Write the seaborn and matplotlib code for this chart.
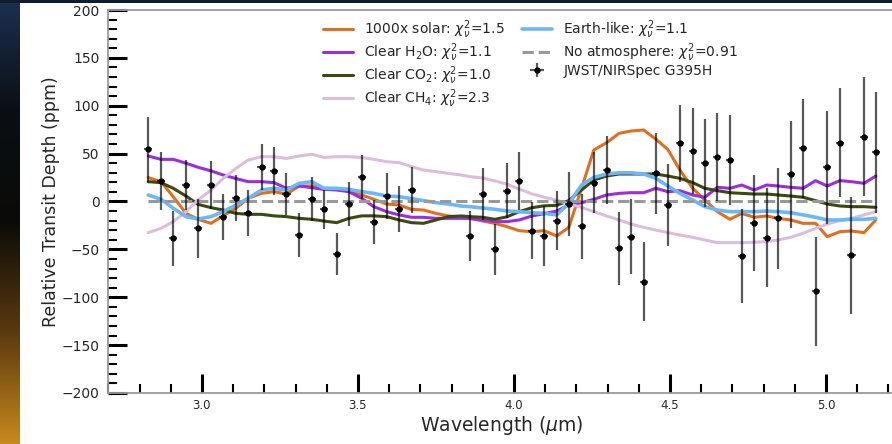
import numpy as np
import pandas as pd
import matplotlib
matplotlib.use('Agg')
import matplotlib.pyplot as plt
from matplotlib.patches import Rectangle
from matplotlib.ticker import MultipleLocator
import seaborn as sns

sns.set_theme(style='ticks')
plt.rcParams['font.family'] = ['DejaVu Sans']
plt.rcParams['mathtext.fontset'] = 'dejavusans'

# JWST/NIRSpec G395H spectrum
data_wl = [2.828, 2.869, 2.908, 2.949, 2.988, 3.029, 3.068, 3.109, 3.148, 3.191,
           3.231, 3.271, 3.312, 3.352, 3.391, 3.432, 3.471, 3.512, 3.551, 3.592,
           3.632, 3.672, 3.859, 3.900, 3.939, 3.978, 4.017, 4.058, 4.097, 4.137,
           4.176, 4.217, 4.256, 4.297, 4.337, 4.375, 4.416, 4.455, 4.493, 4.532,
           4.573, 4.612, 4.652, 4.692, 4.730, 4.770, 4.810, 4.847, 4.887, 4.927,
           4.967, 5.004, 5.045, 5.082, 5.122, 5.160]
data_ppm = [54.5, 21.4, -38.5, 17.2, -28, 17.2, -15.8, 3.3, -12.4, 35.7,
            32.2, 7.8, -35, 2.6, -8.2, -55, -3, 25.9, -21, 6,
            -8.2, 12, -36, 7.8, -50, 11.3, 21.4, -30.5, -36, -20,
            -2.6, -26, 19.6, 32.9, -49, -36.7, -83.7, 29.4, -3.6, 60.8,
            53, 40.5, 46, 43, -56.6, -22.8, -37.8, -17.6, 28.4, 55.5,
            -93.8, 35.7, 61.4, -56, 67.7, 51.4]
data_err = [34, 30, 29, 26, 31, 25, 24, 24, 24, 24,
            25, 22, 23, 23, 20, 22, 23, 23, 23, 24,
            24, 24, 26, 27, 27, 29, 30, 30, 31, 31,
            33, 34, 32, 36, 38, 39, 41, 42, 43, 40,
            45, 46, 46, 47, 49, 50, 52, 53, 56, 52,
            57, 59, 57, 61, 62, 63]

# model grid: data wavelengths plus points across the detector gap
model_wl = data_wl[:22] + [3.71, 3.75, 3.79, 3.83] + data_wl[22:]

solar_1000x = [25, 20.7, 5, -12.4, -18.6, -22.8, -15, -7, 3.3, 8.5,
               10.3, 7.8, 16.2, 16.2, 12.7, 12.7, 11, 6.8, 2.3, -2.6,
               -3.7, -8.2, -8.9, -12.4, -15.1, -16.5,
               -17.6, -20.4, -22.8, -26.3, -30.5, -31.5, -30.5, -36,
               -27, 14, 53.8, 61.4, 71.2, 73.6, 74.7, 65, 54.5, 32.9,
               13.8, 1.6, -10.6, -18.6, -12.4, -16.5, -15.1, -17.6, -19.3, -22.8,
               -22.8, -36.7, -31.5, -30.8, -32.5, -19.3]
clear_h2o = [47.5, 44, 44, 40, 35.7, 32, 27.7, 24, 20.7, 20.7,
             19.7, 13.8, 16.2, 14.4, 12.7, 12, 10.3, 3.3, -5.4, -10.6,
             -14, -16.5, -16.5, -17.6, -17.6, -17.6,
             -17.6, -19.3, -21, -21, -19.3, -15.1, -12.7, -10,
             -3.7, -1.2, 2.3, 6.8, 8.5, 9.2, 9.2, 13.8, 10.3, 11.3,
             6.8, 4.4, 14.8, 13.8, 17.2, 12, 17.2, 16.2, 14.8, 13.8,
             21.8, 16.2, 21.8, 20.7, 19, 26.6]
clear_co2 = [20.7, 19.7, 13.8, 5.7, -3, -6.4, -8.9, -12.4, -13.4, -13.4,
             -15, -15.8, -17.6, -18.6, -20.4, -22.1, -17.6, -15, -15, -15.8,
             -19.3, -22.1, -22.8, -19.3, -15.8, -15.1,
             -15.8, -16.5, -18.6, -16, -10.6, -6.5, -4.5, -4,
             1, 12, 22.5, 26.6, 28.7, 28.7, 28.7, 28.7, 26.6, 24.2,
             19.7, 13.8, 11.3, 9.2, 8.5, 7.8, 7.8, 6.8, 5.7, 4.4,
             0.9, -2.6, -4.7, -5.4, -5.4, -6.1]
clear_ch4 = [-32.5, -28, -21, -10.6, 1.6, 12, 24, 34.6, 43.3, 46.8,
             46.8, 45, 47.5, 49.3, 46, 46.8, 46.8, 46, 44, 41.6,
             40.6, 36.4, 32.9, 31.2, 29.4, 27.7,
             26, 24.5, 21.5, 18, 13, 8, 4.5, 1.2,
             -2.6, -6.1, -10.6, -15.1, -19.3, -23.5, -27, -29.8, -32.5, -35,
             -37.4, -40.2, -43, -43, -43, -42.5, -41.9, -40.2, -37.4, -33.2,
             -28, -23.5, -20, -17.6, -14, -10.6]
earth_like = [6.8, 2.3, -7, -15.8, -18.3, -15.8, -10.6, -3.7, 3.3, 12,
              13.8, 12, 19, 20.7, 13.8, 13.8, 12.7, 10.3, 8.5, 5.7,
              5, 3, 0.9, -1.2, -2.6, -4.7,
              -5.4, -6.8, -8.2, -9.9, -10.6, -11.7, -12.4, -14,
              -1.9, 17.2, 25.2, 28.7, 30, 30, 28.7, 24.2, 16.2, 8.5,
              1.6, -5.4, -8.9, -10.6, -10.6, -10.6, -10, -10.6, -11.7, -14,
              -16.5, -19.3, -19.3, -18.6, -18.6, -17.6]
no_atm_wl = [data_wl[0], data_wl[-1]]
no_atm_ppm = [0, 0]

W, H = 892, 444
fig = plt.figure(figsize=(W / 100, H / 100), dpi=100, facecolor='white')

# dark backdrop strips (left and top), as in the screenshot
bg = fig.add_axes([0, 0, 20 / W, 1])
grad = np.linspace(0, 1, 256).reshape(-1, 1)
cmap = matplotlib.colors.LinearSegmentedColormap.from_list(
    'bg', ['#1c3050', '#0a0f14', '#0a0b08', '#5a3a10', '#c8891e'])
bg.imshow(grad, aspect='auto', cmap=cmap, extent=[0, 1, 0, 1])
bg.axis('off')
fig.patches.append(Rectangle((0, (H - 3) / H), 1, 3 / H,
                             transform=fig.transFigure, facecolor='#0e1c30',
                             edgecolor='none', zorder=5))

ax = fig.add_axes([108 / W, 1 - 393 / H, 787 / W, 383 / H])
ax.set_facecolor('white')

models = [
    (solar_1000x, '#e0701e', r'1000x solar: $\chi_\nu^2$=1.5', 2.2),
    (clear_h2o, '#9b2fdb', r'Clear H$_2$O: $\chi_\nu^2$=1.1', 2.2),
    (clear_co2, '#3c4a12', r'Clear CO$_2$: $\chi_\nu^2$=1.0', 2.2),
    (clear_ch4, '#dcbddc', r'Clear CH$_4$: $\chi_\nu^2$=2.3', 2.2),
    (earth_like, '#6cb8f6', r'Earth-like: $\chi_\nu^2$=1.1', 2.6),
]
for vals, col, lab, lw in models:
    df = pd.DataFrame({'wl': model_wl, 'ppm': vals})
    sns.lineplot(data=df, x='wl', y='ppm', ax=ax, color=col, lw=lw,
                 label=lab, sort=False, estimator=None, zorder=3)

sns.lineplot(x=no_atm_wl, y=no_atm_ppm, ax=ax, color='#999999', lw=2.2,
             linestyle='--', dashes=(3, 2), zorder=3,
             label=r'No atmosphere: $\chi_\nu^2$=0.91')

ax.errorbar(data_wl, data_ppm, yerr=data_err, xerr=0.013, fmt='o',
            color='black', ms=3.5, ecolor=(0, 0, 0, 0.65),
            elinewidth=1.6, capsize=0, zorder=4,
            label='JWST/NIRSpec G395H')

ax.set_xlim(2.699, 2.699 + 787 / 312)
ax.set_ylim(-200, 200)
ax.xaxis.set_major_locator(MultipleLocator(0.5))
ax.xaxis.set_minor_locator(MultipleLocator(0.1))
ax.yaxis.set_major_locator(MultipleLocator(50))
ax.yaxis.set_minor_locator(MultipleLocator(10))
ax.tick_params(axis='both', which='major', direction='in', length=14,
               width=2.2, color='black')
ax.tick_params(axis='both', which='minor', direction='in', length=6.5,
               width=1.5, color='black')
ax.tick_params(axis='y', which='major', labelsize=10, pad=6)
ax.tick_params(axis='x', which='major', labelsize=8.5, pad=4)
for s in ax.spines.values():
    s.set_color('#9a9a9a')
    s.set_linewidth(1.3)

ax.set_xlabel(r'Wavelength ($\mu$m)', fontsize=13.5, labelpad=2)
ax.set_ylabel('Relative Transit Depth (ppm)', fontsize=12.5, labelpad=1)

handles, labels = ax.get_legend_handles_labels()
ax.legend(handles, labels, ncol=2, loc='upper left',
          bbox_to_anchor=(0.262, 1.0), frameon=False, fontsize=10,
          handlelength=2.2, labelspacing=0.02, columnspacing=1.2,
          handletextpad=0.8, borderaxespad=0.2)

fig.savefig('out.png', dpi=100, facecolor=fig.get_facecolor())
